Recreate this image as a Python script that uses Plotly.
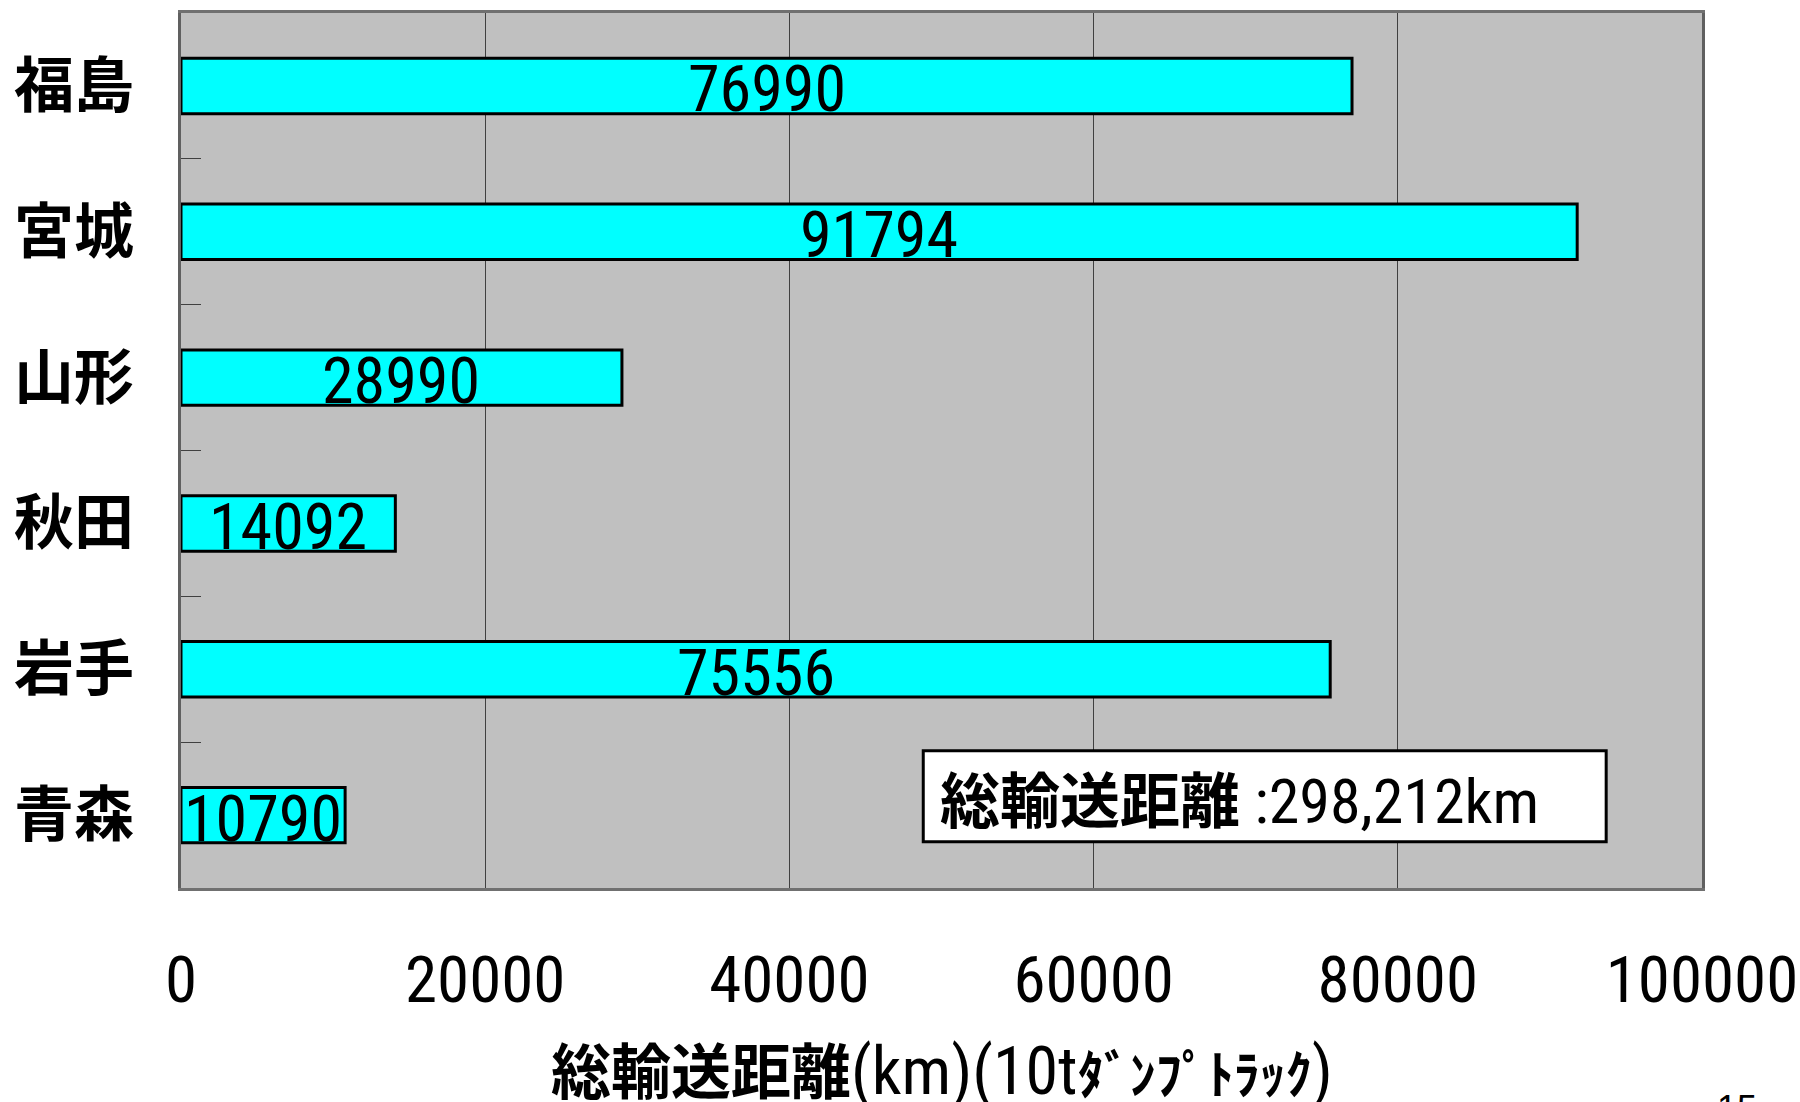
import plotly.graph_objects as go

prefectures = ["福島", "宮城", "山形", "秋田", "岩手", "青森"]
distances = [76990, 91794, 28990, 14092, 75556, 10790]
x_ticks = [0, 20000, 40000, 60000, 80000, 100000]
total_label = "298,212km"
box_title = "総輸送距離"
axis_title_cjk = "総輸送距離"
axis_title_unit = "(km)(10t"
axis_title_kana = "ﾀﾞﾝﾌﾟﾄﾗｯｸ"
page_number = "15"

NARROW = "Roboto Condensed, Liberation Sans, Arial, sans-serif"
CJK = "Noto Sans CJK JP"

fig = go.Figure()
fig.add_trace(go.Bar(
    x=distances, y=prefectures, orientation="h",
    marker=dict(color="#00FFFF", line=dict(color="black", width=3)),
    hoverinfo="x+y", showlegend=False,
))

for p, v in zip(prefectures, distances):
    fig.add_annotation(x=v / 2, y=p, xref="x", yref="y", text=str(v),
                       showarrow=False, font=dict(family=NARROW, size=64, color="black"),
                       yshift=-4)

# total box
fig.add_shape(type="rect", xref="x", yref="paper", x0=48800, x1=93700, y0=0.053, y1=0.157,
              fillcolor="white", line=dict(color="black", width=3), layer="above")
fig.add_annotation(x=49800, y=0.105, xref="x", yref="paper", xanchor="left", yanchor="middle",
                   showarrow=False,
                   text=f'<span style="font-family:{CJK};font-weight:bold;font-size:60px">{box_title}</span> :{total_label}',
                   font=dict(family=NARROW, size=62, color="black"))

# x-axis title
fig.add_annotation(x=0.5, y=-0.2057, xref="paper", yref="paper", xanchor="center", yanchor="middle",
                   showarrow=False,
                   text=f'<span style="font-family:{CJK};font-weight:bold;font-size:60px">{axis_title_cjk}</span>{axis_title_unit}'
                        f'<span style="font-family:{CJK};font-weight:bold;font-size:52px">{axis_title_kana}</span>)',
                   font=dict(family=NARROW, size=66, color="black"))

fig.add_annotation(x=1.023, y=-0.226, xref="paper", yref="paper", xanchor="center", yanchor="top",
                   showarrow=False, text=page_number,
                   font=dict(family="Liberation Sans, Arial", size=36, color="black"))

fig.update_layout(
    width=1800, height=1102,
    margin=dict(l=181, r=98, t=13, b=214, autoexpand=False),
    paper_bgcolor="white", plot_bgcolor="#C0C0C0",
    bargap=0.62,
    xaxis=dict(
        range=[0, 100000], tickvals=x_ticks, ticktext=[str(t) for t in x_ticks],
        showgrid=True, gridcolor="#404040", gridwidth=1, zeroline=False,
        showline=True, linecolor="#707070", linewidth=3, mirror=True,
        ticks="", tickfont=dict(family=NARROW, size=65, color="black"),
        ticklabelstandoff=33, ticklabeloverflow="allow", automargin=False,
        fixedrange=True,
    ),
    yaxis=dict(
        categoryorder="array", categoryarray=prefectures, autorange="reversed",
        tickson="boundaries", ticks="inside", ticklen=20, tickcolor="#404040", tickwidth=1,
        showline=True, linecolor="#606060", linewidth=3, mirror=True,
        showgrid=False, automargin=False,
        tickfont=dict(family=CJK, size=60, color="black", weight="bold"),
        ticklabelstandoff=32,
        fixedrange=True,
    ),
)

fig.write_html("out.html", config={"displayModeBar": False},
               post_script="document.body.style.margin='0';document.body.style.overflow='hidden';")
